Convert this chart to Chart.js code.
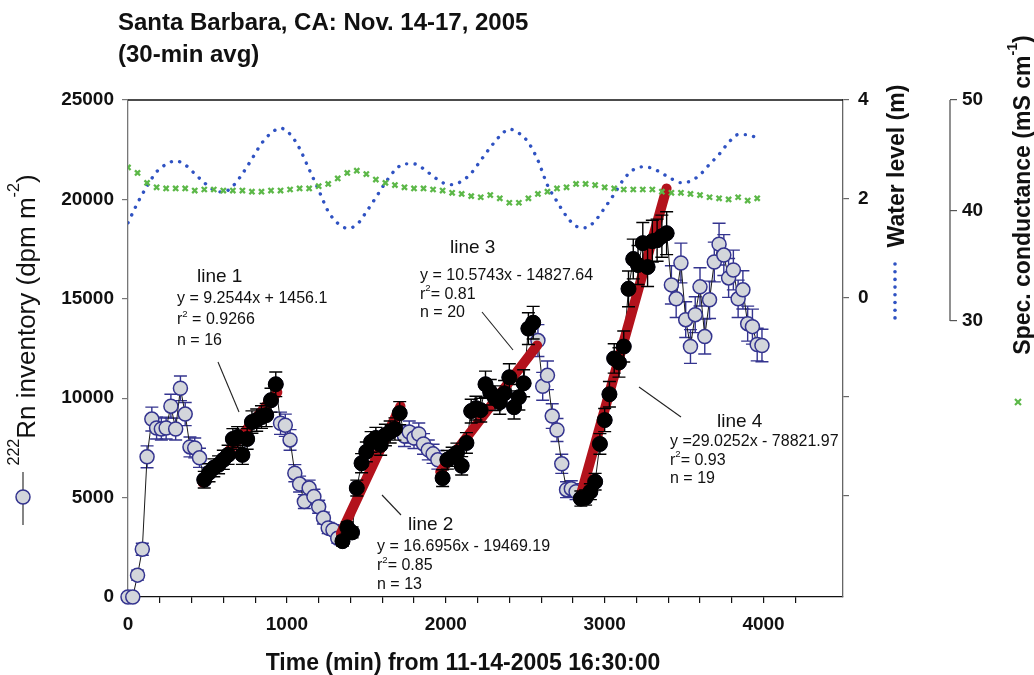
<!DOCTYPE html>
<html>
<head>
<meta charset="utf-8">
<title>Santa Barbara, CA: Nov. 14-17, 2005</title>
<script src="https://cdn.jsdelivr.net/npm/chart.js@4.4.1/dist/chart.umd.min.js"></script>
<style>
  html, body { margin: 0; padding: 0; background: #fff; }
  canvas { display: block; }
</style>
</head>
<body>
<canvas id="chart" width="1034" height="675"></canvas>
<script>
// 222Rn inventory (dpm m-2), 30-min averages from 11-14-2005 16:30:00
var rnStep = 30;
var rnInventory = [
  0, 0, 1100, 2400,
  7050, 8950, 8500, 8450, 8500, 9600, 8450, 10500, 9200, 7550, 7500, 7000,
  5900, 6250, 6500, 6650, 6900, 7150, 7950, 8050, 7150, 7950, 8800, 8900, 9050, 9150, 9900, 10700,
  8740, 8640, 7900, 6230, 5680, 4800, 5480, 5050, 4540, 3970, 3470, 3370, 2960,
  2810, 3500, 3250, 5480, 6730, 7300, 7800, 8000, 7650, 8150, 8300, 8450, 9250,
  8100, 8300, 8000, 8200, 7700, 7400, 7200, 6900,
  5980, 6900, 7050, 7250, 6600, 7750, 9350, 9500, 9400, 10700, 10300, 10000, 9800, 10250, 11050, 9550, 10050, 10750, 13500, 13800,
  12900, 10600, 11150, 9100, 8400, 6700, 5400, 5450, 5300,
  4950, 5000, 5300, 5800, 7700, 8900, 10200, 12000, 11800, 12600, 15500, 17000, 16700, 17800, 16600, 17900, 17950, 18150, 18300,
  15700, 15000, 16800, 13950, 12600, 14200, 15600, 13100, 14950, 16850, 17750, 17200, 16050, 16450, 15000, 15450, 13750, 13600, 12700, 12650
];
var rnError = [
  150, 150, 250, 300,
  550, 600, 550, 550, 550, 600, 550, 620, 580, 500, 500, 480,
  420, 450, 450, 450, 480, 480, 520, 520, 480, 520, 560, 560, 570, 580, 600, 620,
  560, 560, 520, 430, 400, 350, 400, 370, 330, 300, 280, 270, 250,
  250, 280, 270, 400, 480, 500, 520, 530, 520, 540, 550, 560, 580,
  530, 550, 530, 550, 520, 500, 480, 470,
  420, 470, 480, 490, 460, 520, 600, 600, 600, 660, 640, 620, 610, 640, 680, 600, 640, 680, 800, 820,
  800, 700, 720, 620, 580, 480, 400, 400, 400,
  380, 380, 400, 420, 520, 580, 640, 740, 740, 780, 900, 1000, 980, 1040, 980, 1050, 1060, 1060, 1080,
  960, 940, 1000, 900, 850, 900, 960, 880, 940, 1000, 1050, 1030, 980, 1000, 940, 960, 880, 880, 820, 820
];

// points used in each regression (first and last index into rnInventory)
var fitFirst = [16, 45, 66, 95];
var fitLast = [31, 57, 85, 113];
// ends of the red regression lines as drawn (min, dpm m-2)
var fitLineX = [[470, 940], [1340, 1715], [1965, 2575], [2845, 3390]];
var fitLineY = [[5750, 10300], [3200, 9600], [6300, 12650], [5000, 20550]];
var fitName = ['line 1', 'line 2', 'line 3', 'line 4'];
var fitEquation = ['y = 9.2544x + 1456.1', 'y = 16.6956x - 19469.19', 'y = 10.5743x - 14827.64', 'y =29.0252x - 78821.97'];
var fitR2 = [' = 0.9266', '= 0.85', '= 0.81', '= 0.93'];
var fitN = ['n = 16', 'n = 13', 'n = 20', 'n = 19'];

// water level (m) and specific conductance (mS cm-1), hourly
var hourStep = 60;
var waterLevel = [
  1.52, 1.92, 2.26, 2.55, 2.70, 2.77, 2.69, 2.51, 2.33, 2.18,
  2.14, 2.26, 2.51, 2.81, 3.12, 3.33, 3.43, 3.31, 3.02, 2.60,
  2.18, 1.75, 1.51, 1.41, 1.48, 1.74, 2.03, 2.33, 2.58, 2.71,
  2.71, 2.61, 2.46, 2.33, 2.29, 2.36, 2.52, 2.78, 3.04, 3.27,
  3.41, 3.33, 3.14, 2.78, 2.28, 1.95, 1.65, 1.45, 1.42, 1.56,
  1.82, 2.10, 2.40, 2.59, 2.65, 2.62, 2.52, 2.41, 2.33, 2.36,
  2.49, 2.70, 2.90, 3.14, 3.30, 3.30, 3.23
];
var specCond = [
  43.9, 43.4, 42.5, 42.1, 42.0, 42.0, 42.0, 41.8, 41.9, 41.9,
  41.8, 41.8, 41.8, 41.7, 41.7, 41.8, 41.8, 41.9, 42.0, 42.0,
  42.2, 42.4, 42.9, 43.4, 43.6, 43.3, 42.8, 42.5, 42.3, 42.1,
  42.0, 42.0, 41.9, 41.8, 41.6, 41.5, 41.3, 41.2, 41.4, 41.1,
  40.7, 40.7, 41.1, 41.5, 41.7, 42.0, 42.1, 42.4, 42.4, 42.3,
  42.1, 42.0, 41.9, 41.9, 41.9, 41.9, 41.7, 41.6, 41.6, 41.5,
  41.4, 41.2, 41.1, 41.0, 41.2, 40.9, 41.1
];

var xTicks = [0, 1000, 2000, 3000, 4000];
var rnTicks = [0, 5000, 10000, 15000, 20000, 25000];
var waterTicks = [-4, -2, 0, 2, 4];
var specTicks = [30, 40, 50];

var FONT = "'Liberation Sans', Arial, Helvetica, sans-serif";
var NAVY = '#34348f';
var GRAYFILL = '#d3d6db';

function isFit(i) {
  for (var k = 0; k < fitFirst.length; k++) {
    if (i >= fitFirst[k] && i <= fitLast[k]) return true;
  }
  return false;
}

var rnAll = rnInventory.map(function (v, i) { return { x: i * rnStep, y: v }; });
var rnAllErr = rnError.map(function (e, i) { return isFit(i) ? null : e; });
var rnFit = [], rnFitErr = [];
rnInventory.forEach(function (v, i) {
  if (isFit(i)) { rnFit.push({ x: i * rnStep, y: v }); rnFitErr.push(rnError[i]); }
});

var datasets = [{
  data: rnAll,
  errors: rnAllErr,
  errorColor: NAVY,
  borderColor: '#1a1a1a',
  borderWidth: 1,
  pointRadius: 7,
  pointBackgroundColor: GRAYFILL,
  pointBorderColor: NAVY,
  pointBorderWidth: 1.5,
  clip: false,
  order: 10
}];
fitLineX.forEach(function (xs, k) {
  datasets.push({
    data: [{ x: xs[0], y: fitLineY[k][0] }, { x: xs[1], y: fitLineY[k][1] }],
    borderColor: '#b3121c',
    borderWidth: 10,
    borderCapStyle: 'round',
    pointRadius: 0,
    order: 6
  });
});
datasets.push({
  data: rnFit,
  errors: rnFitErr,
  errorColor: '#000',
  showLine: false,
  pointRadius: 7.5,
  pointBackgroundColor: '#000',
  pointBorderColor: '#000',
  pointBorderWidth: 1,
  clip: false,
  order: 4
});
datasets.push({
  data: waterLevel.map(function (v, i) { return { x: i * hourStep, y: v }; }),
  yAxisID: 'yWater',
  borderColor: '#2f52c2',
  borderWidth: 3.4,
  borderDash: [0.1, 8.4],
  borderCapStyle: 'round',
  cubicInterpolationMode: 'monotone',
  pointRadius: 0,
  order: 2
});
datasets.push({
  data: specCond.map(function (v, i) { return { x: i * hourStep, y: v }; }),
  yAxisID: 'ySpec',
  showLine: false,
  pointStyle: 'crossRot',
  pointRadius: 3.6,
  pointBorderColor: '#5cb848',
  pointBorderWidth: 2.3,
  order: 1
});

// error bars, drawn just under the markers of their dataset
var errorBars = {
  id: 'errorBars',
  beforeDatasetDraw: function (chart, args) {
    var ds = chart.data.datasets[args.index];
    if (!ds.errors) return;
    var ctx = chart.ctx, xs = chart.scales.x, ys = chart.scales.y;
    ctx.save();
    ctx.strokeStyle = ds.errorColor;
    ctx.lineWidth = 1.4;
    ds.data.forEach(function (p, i) {
      var e = ds.errors[i];
      if (e == null) return;
      var px = xs.getPixelForValue(p.x);
      var top = ys.getPixelForValue(p.y + e), bot = ys.getPixelForValue(p.y - e);
      ctx.beginPath();
      ctx.moveTo(px, top); ctx.lineTo(px, bot);
      ctx.moveTo(px - 6.5, top); ctx.lineTo(px + 6.5, top);
      ctx.moveTo(px - 6.5, bot); ctx.lineTo(px + 6.5, bot);
      ctx.stroke();
    });
    ctx.restore();
  }
};

// text with superscripts; parts = [[text, isSuperscript], ...]
function richText(ctx, parts, x, y, o) {
  var size = o.size, weight = o.weight || 'normal';
  var supSize = size * (o.supScale || 0.62);
  ctx.save();
  ctx.translate(x, y);
  if (o.rotate) ctx.rotate(-Math.PI / 2);
  ctx.fillStyle = o.color || '#111';
  ctx.textBaseline = 'alphabetic';
  ctx.textAlign = 'left';
  var w = 0;
  parts.forEach(function (p) {
    ctx.font = weight + ' ' + (p[1] ? supSize : size) + 'px ' + FONT;
    w += ctx.measureText(p[0]).width;
  });
  var cx = o.align === 'center' ? -w / 2 : 0;
  parts.forEach(function (p) {
    ctx.font = weight + ' ' + (p[1] ? supSize : size) + 'px ' + FONT;
    ctx.fillText(p[0], cx, p[1] ? -size * (o.supRise || 0.45) : 0);
    cx += ctx.measureText(p[0]).width;
  });
  ctx.restore();
}

function seg(ctx, x1, y1, x2, y2, color, width) {
  ctx.save();
  ctx.strokeStyle = color;
  ctx.lineWidth = width;
  ctx.beginPath();
  ctx.moveTo(x1, y1);
  ctx.lineTo(x2, y2);
  ctx.stroke();
  ctx.restore();
}

// label positions for each regression
var noteName = [[197, 282], [408, 530], [450, 253], [717, 427]];
var noteEq = [[177, 303], [377, 551], [420, 280], [670, 446]];
var noteGap = [21, 19, 18.5, 18.5];
var noteLeader = [[218, 362, 239, 412], [382, 495, 401, 515], [482, 312, 513, 350], [639, 387, 681, 417]];

var decorations = {
  id: 'decorations',
  afterDraw: function (chart) {
    var ctx = chart.ctx, area = chart.chartArea;
    var spec = chart.scales.ySpec;

    // frame top and the short conductance axis
    seg(ctx, area.left, area.top, area.right, area.top, '#111', 1.3);
    seg(ctx, spec.left, spec.getPixelForValue(50), spec.left, spec.getPixelForValue(30), '#555', 1.3);

    // title
    richText(ctx, [['Santa Barbara, CA: Nov. 14-17, 2005', 0]], 118, 30, { size: 24, weight: 'bold' });
    richText(ctx, [['(30-min avg)', 0]], 118, 62, { size: 24, weight: 'bold' });

    // axis titles
    richText(ctx, [['Time (min) from 11-14-2005 16:30:00', 0]], 463, 670, { size: 23, weight: 'bold', align: 'center' });
    richText(ctx, [['222', 1], ['Rn inventory (dpm m', 0], ['-2', 1], [')', 0]], 35, 320,
      { size: 26, rotate: true, align: 'center', supRise: 0.62 });
    richText(ctx, [['Water level (m)', 0]], 904, 166, { size: 23, weight: 'bold', rotate: true, align: 'center' });
    richText(ctx, [['Spec. conductance (mS cm', 0], ['-1', 1], [')', 0]], 1030, 195,
      { size: 23, weight: 'bold', rotate: true, align: 'center', supRise: 0.55 });

    // legend keys next to the axis titles
    seg(ctx, 23, 472, 23, 525, '#333', 1.2);
    ctx.save();
    ctx.beginPath();
    ctx.arc(23, 497, 7, 0, Math.PI * 2);
    ctx.fillStyle = GRAYFILL;
    ctx.fill();
    ctx.strokeStyle = NAVY;
    ctx.lineWidth = 1.5;
    ctx.stroke();
    ctx.fillStyle = '#2f52c2';
    for (var d = 0; d < 8; d++) {
      ctx.beginPath();
      ctx.arc(895, 264 + d * 7.7, 1.8, 0, Math.PI * 2);
      ctx.fill();
    }
    ctx.restore();
    seg(ctx, 1015, 399, 1021, 405, '#5cb848', 2.2);
    seg(ctx, 1015, 405, 1021, 399, '#5cb848', 2.2);

    // regression notes
    fitName.forEach(function (name, k) {
      var ex = noteEq[k][0], ey = noteEq[k][1], g = noteGap[k];
      richText(ctx, [[name, 0]], noteName[k][0], noteName[k][1], { size: 19 });
      richText(ctx, [[fitEquation[k], 0]], ex, ey, { size: 16 });
      richText(ctx, [['r', 0], ['2', 1], [fitR2[k], 0]], ex, ey + g, { size: 16, supScale: 0.6, supRise: 0.45 });
      richText(ctx, [[fitN[k], 0]], ex, ey + 2 * g, { size: 16 });
      var L = noteLeader[k];
      seg(ctx, L[0], L[1], L[2], L[3], '#222', 1.1);
    });
  }
};

var tickFont = { family: FONT, size: 19, weight: 'bold' };

new Chart(document.getElementById('chart'), {
  type: 'line',
  data: { datasets: datasets },
  options: {
    responsive: false,
    devicePixelRatio: 1,
    animation: false,
    events: [],
    layout: { padding: { top: 100, left: 0, right: 0, bottom: 0 } },
    plugins: { legend: { display: false }, tooltip: { enabled: false }, title: { display: false } },
    scales: {
      x: {
        type: 'linear', position: 'bottom', min: 0, max: 4500,
        border: { color: '#111', width: 1.3 },
        grid: { drawOnChartArea: false, drawTicks: true, tickLength: 6, color: '#111', lineWidth: 1.2 },
        ticks: {
          stepSize: 200, autoSkip: false, maxRotation: 0, padding: 10, color: '#111', font: tickFont,
          callback: function (v) { return xTicks.indexOf(v) >= 0 ? String(v) : ''; }
        },
        afterBuildTicks: function (s) {
          s.ticks = s.ticks.filter(function (t) { return t.value % 200 === 0; });
        },
        afterFit: function (s) { s.height = 78; }
      },
      y: {
        type: 'linear', position: 'left', min: 0, max: 25000,
        border: { color: '#777', width: 1.3 },
        grid: { drawOnChartArea: false, tickLength: 6, color: '#777', lineWidth: 1.2 },
        ticks: { padding: 8, color: '#111', font: tickFont, callback: function (v) { return String(v); } },
        afterBuildTicks: function (s) { s.ticks = rnTicks.map(function (v) { return { value: v }; }); },
        afterFit: function (s) { s.width = 128; }
      },
      yWater: {
        type: 'linear', position: 'right', weight: 0, min: -6.04, max: 4,
        border: { color: '#666', width: 1.3 },
        grid: { drawOnChartArea: false, tickLength: 6, color: '#666', lineWidth: 1.2 },
        ticks: {
          padding: 9, color: '#111', font: tickFont,
          callback: function (v) { return v >= 0 ? String(v) : ''; }
        },
        afterBuildTicks: function (s) { s.ticks = waterTicks.map(function (v) { return { value: v }; }); },
        afterFit: function (s) { s.width = 107; }
      },
      ySpec: {
        type: 'linear', position: 'right', weight: 1, min: 5.02, max: 50,
        border: { display: false },
        grid: { drawOnChartArea: false, tickLength: 7, color: '#555', lineWidth: 1.2 },
        ticks: { padding: 5, color: '#111', font: tickFont, callback: function (v) { return String(v); } },
        afterBuildTicks: function (s) { s.ticks = specTicks.map(function (v) { return { value: v }; }); },
        afterFit: function (s) { s.width = 84; }
      }
    }
  },
  plugins: [errorBars, decorations]
});
</script>
</body>
</html>
